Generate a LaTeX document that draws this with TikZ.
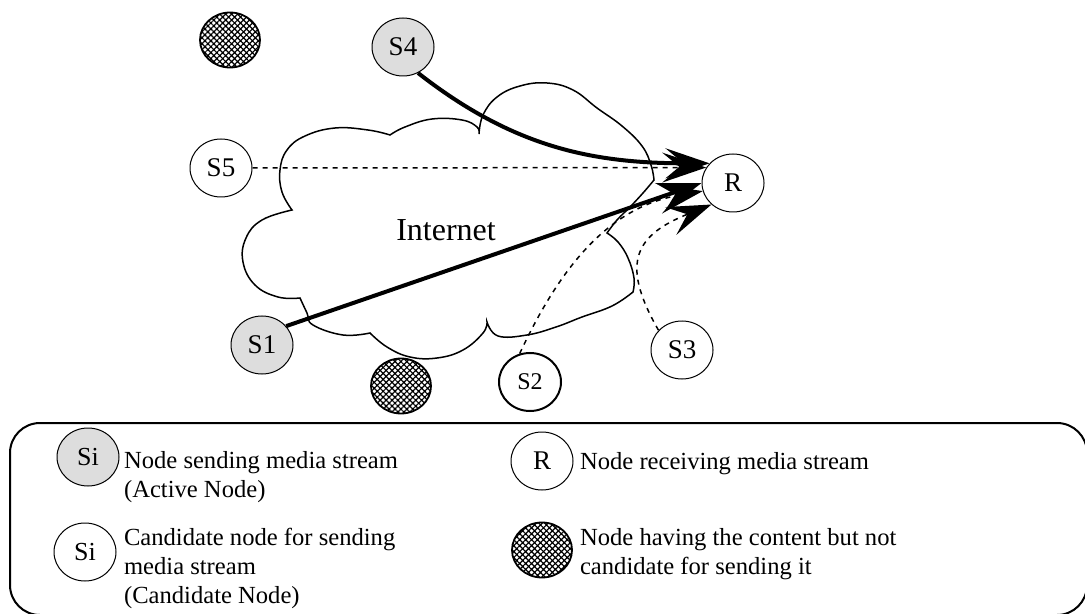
\documentclass[tikz,border=0pt]{standalone}
\usepackage{fontspec}
\setmainfont{Liberation Serif}
\usepackage{xcolor}
\usepackage{tikz}
\usetikzlibrary{shapes.geometric}
\usetikzlibrary{arrows.meta}
\usetikzlibrary{patterns.meta}

\definecolor{activegray}{RGB}{221,221,221}

\begin{document}
\begin{tikzpicture}[x=0.5pt, y=-0.5pt,
        peer/.style={draw, ellipse, inner sep=0pt, minimum width=31pt,
            minimum height=29pt, line width=0.5pt,
            font=\fontsize{13.5}{16}\selectfont},
        active/.style={peer, fill=activegray},
        idle/.style={peer, line width=0.9pt, minimum width=30pt,
            minimum height=27.5pt,
            pattern={Hatch[distance=2.1pt, line width=0.6pt, angle=45]}},
        stream/.style={line width=2pt,
            -{Stealth[length=22pt, width=15pt, inset=9pt]}},
        probe/.style={line width=0.75pt, dash pattern=on 2.5pt off 2.5pt,
            -{Stealth[length=22pt, width=15pt, inset=9pt]}},
        legtext/.style={anchor=west, align=left,
            font=\fontsize{12.3}{14.5}\selectfont}]
        \useasboundingbox (0, 0) rectangle (1085, 614);
        \clip (0, 0) rectangle (1085, 614);

        % the cloud
        \draw[line width=0.75pt]
            plot[smooth, tension=0.7] coordinates {(292, 210) (282, 192)
                (280, 170) (287, 150) (305, 136) (335, 128) (368, 130) (390, 135)}
            -- plot[smooth, tension=0.7] coordinates {(390, 135) (405, 127)
                (432, 119) (462, 120) (477, 127) (479, 134)}
            -- plot[smooth, tension=0.7] coordinates {(479, 134) (483, 115)
                (497, 97) (520, 86) (547, 83) (573, 90) (597, 108) (622, 126)
                (642, 146) (651, 165) (654, 180)}
            -- plot[smooth, tension=0.7] coordinates {(654, 180) (643, 193)
                (630, 207) (617, 220) (607, 233)}
            -- plot[smooth, tension=0.7] coordinates {(607, 233) (618, 242)
                (628, 258) (634, 278) (633, 292)}
            -- plot[smooth, tension=0.7] coordinates {(633, 292) (612, 306)
                (582, 317) (556, 327) (527, 335) (498, 336) (487, 322)}
            -- plot[smooth, tension=0.7] coordinates {(487, 322) (483, 333)
                (463, 350) (437, 358) (410, 357) (387, 347) (370, 333)}
            -- plot[smooth, tension=0.7] coordinates {(370, 333) (343, 335)
                (313, 325) (307, 313) (300, 298)}
            -- plot[smooth, tension=0.7] coordinates {(300, 298) (278, 297)
                (255, 285) (243, 262) (246, 238) (262, 220) (292, 210)}
            -- cycle;
        \node[font=\fontsize{16}{19}\selectfont] (net) at (446, 230) {Internet};

        % peers
        \node[idle] (H1) at (230, 40) {};
        \node[active] (S4) at (403, 47) {S4};
        \node[peer] (S5) at (221, 168) {S5};
        \node[peer] (R) at (733, 183) {R};
        \node[active] (S1) at (262, 345) {S1};
        \node[idle] (H2) at (401, 386) {};
        \node[peer, line width=1pt, font=\fontsize{12}{14}\selectfont]
            (S2) at (530, 382) {S2};
        \node[peer] (S3) at (682, 350) {S3};

        % streams
        \draw[stream] (S4.-60) to[out=-38, in=180] (R.140);
        \draw[probe] (S5.east) -- (R.150);
        \draw[stream] (S1.38) -- (R.180);
        \draw[probe] (S2.110) to[out=65, in=190] (R.195);
        \draw[probe] (S3.140) to[out=120, in=202, looseness=1.5] (R.225);

        % legend
        \draw[line width=1pt, rounded corners=15pt] (10, 423) rectangle (1087, 615);
        \node[active, font=\fontsize{13}{15}\selectfont] (L1) at (88, 457) {Si};
        \node[legtext] (T1) at (117, 477) {Node sending media stream\\(Active Node)};
        \node[peer, font=\fontsize{13}{15}\selectfont] (L2) at (85, 552) {Si};
        \node[legtext] (T2) at (117, 568)
            {Candidate node for sending\\media stream\\(Candidate Node)};
        \node[peer] (L3) at (542, 461) {R};
        \node[legtext] (T3) at (573, 464) {Node receiving media stream};
        \node[idle] (L4) at (542, 550) {};
        \node[legtext] (T4) at (573, 554)
            {Node having the content but not\\candidate for sending it};
\end{tikzpicture}
\end{document}
